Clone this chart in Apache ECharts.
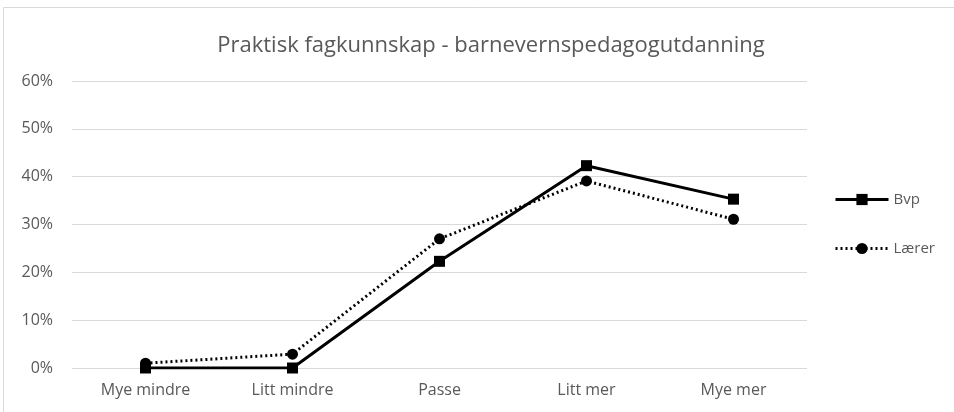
<!DOCTYPE html>
<html><head><meta charset="utf-8">
<script src="https://cdn.jsdelivr.net/npm/echarts@6/dist/echarts.min.js"></script>
<style>html,body{margin:0;padding:0;background:#fff}#c{width:954px;height:412px}</style>
</head><body><div id="c"></div>
<script>
const categories = ['Mye mindre', 'Litt mindre', 'Passe', 'Litt mer', 'Mye mer'];
const bvp = [0, 0, 22.3, 42.3, 35.3];
const laerer = [1.0, 2.9, 27.0, 39.1, 31.1];
const yTicks = [0, 10, 20, 30, 40, 50, 60];
const titleText = 'Praktisk fagkunnskap - barnevernspedagogutdanning';
const FONT = '"Open Sans", "Noto Sans", sans-serif';

const chart = echarts.init(document.getElementById('c'));
chart.setOption({
  animation: false,
  backgroundColor: '#fff',
  graphic: [{type: 'rect', shape: {x: 3.5, y: 7.5, width: 1000, height: 500}, style: {fill: 'none', stroke: '#d9d9d9', lineWidth: 1}, silent: true}],
  title: {text: titleText, left: 486, top: 30, textAlign: 'center',
    textStyle: {fontFamily: FONT, fontSize: 22, fontWeight: 'normal', color: '#595959'}},
  grid: {left: 72, right: 147, top: 81, bottom: 44, containLabel: false},
  legend: {orient: 'vertical', left: 829, top: 187, itemGap: 34, itemWidth: 53, itemHeight: 14,
    lineStyle: {width: 3},
    textStyle: {fontFamily: FONT, fontSize: 15, color: '#595959'},
    data: ['Bvp', 'Lærer']},
  xAxis: {type: 'category', data: categories, boundaryGap: true,
    axisLine: {show: false}, axisTick: {show: false},
    axisLabel: {fontFamily: FONT, fontSize: 16, color: '#595959', margin: 14}},
  yAxis: {type: 'value', min: 0, max: 60, interval: 10,
    axisLine: {show: false}, axisTick: {show: false},
    splitLine: {lineStyle: {color: '#d9d9d9', width: 1}},
    axisLabel: {fontFamily: FONT, fontSize: 16, color: '#595959', margin: 19, formatter: v => v + '%'}},
  series: [
    {name: 'Bvp', type: 'line', data: bvp, symbol: 'rect', symbolSize: 11,
      itemStyle: {color: '#000'}, lineStyle: {color: '#000', width: 3, type: 'solid'}},
    {name: 'Lærer', type: 'line', data: laerer, symbol: 'circle', symbolSize: 11,
      itemStyle: {color: '#000'}, lineStyle: {color: '#000', width: 3, type: [2, 3]}}
  ]
});
</script></body></html>
